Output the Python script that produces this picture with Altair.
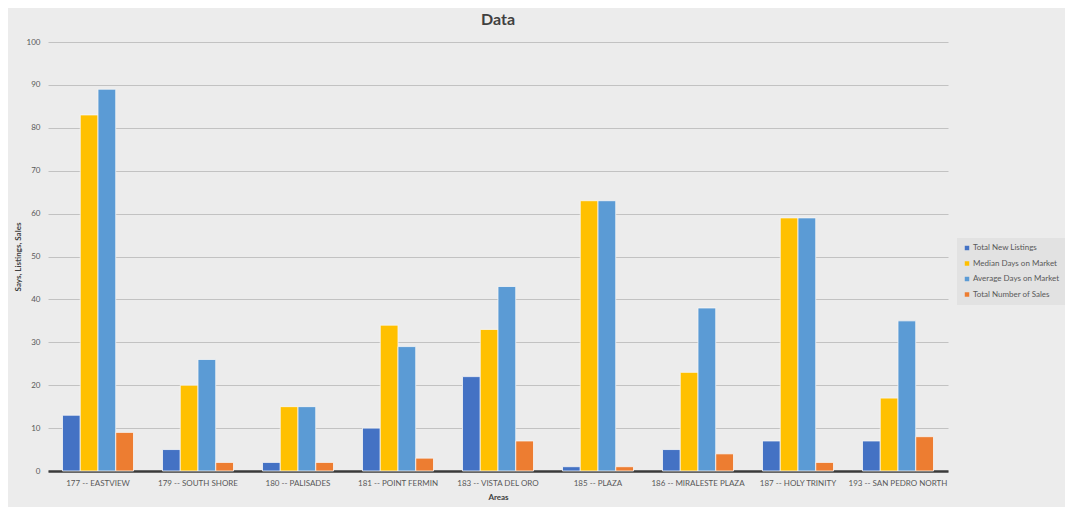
import altair as alt
import pandas as pd

areas = ["177 -- EASTVIEW", "179 -- SOUTH SHORE", "180 -- PALISADES", "181 -- POINT FERMIN",
         "183 -- VISTA DEL ORO", "185 -- PLAZA", "186 -- MIRALESTE PLAZA", "187 -- HOLY TRINITY",
         "193 -- SAN PEDRO NORTH"]
series = ["Total New Listings", "Median Days on Market", "Average Days on Market", "Total Number of Sales"]
new_listings = [13, 5, 2, 10, 22, 1, 5, 7, 7]
median_days = [83, 20, 15, 34, 33, 63, 23, 59, 17]
average_days = [89, 26, 15, 29, 43, 63, 38, 59, 35]
num_sales = [9, 2, 2, 3, 7, 1, 4, 2, 8]
colors = ["#4472C4", "#FFC000", "#5B9BD5", "#ED7D31"]

rows = []
for s, vals in zip(series, [new_listings, median_days, average_days, num_sales]):
    for a, v in zip(areas, vals):
        rows.append({"Area": a, "Series": s, "Value": v})
df = pd.DataFrame(rows)

font = "Lato"
chart = alt.Chart(df).mark_bar(stroke="#f6f6f6", strokeWidth=0.8).encode(
    x=alt.X("Area:N", sort=areas, title="Areas",
            scale=alt.Scale(paddingInner=0.29, paddingOuter=0.145),
            axis=alt.Axis(labelAngle=0, ticks=False, labelPadding=8, labelFontSize=8,
                          labelColor="#595959", labelFont=font, titleFont=font,
                          titleFontSize=8, titleColor="#404040", titleFontWeight="bold",
                          titlePadding=6, domainColor="#3a3a3a", domainWidth=2.5, grid=False)),
    xOffset=alt.XOffset("Series:N", sort=series, scale=alt.Scale(paddingInner=0.0)),
    y=alt.Y("Value:Q", title="Says, Listings, Sales",
            scale=alt.Scale(domain=[0, 100]),
            axis=alt.Axis(values=list(range(0, 101, 10)), ticks=False, domain=False,
                          labelPadding=8, labelFontSize=8, labelColor="#595959", labelFont=font,
                          titleFont=font, titleFontSize=8, titleColor="#404040",
                          titleFontWeight="bold", titlePadding=4,
                          gridColor="#c2c2c2", gridWidth=1)),
    color=alt.Color("Series:N", sort=series,
                    scale=alt.Scale(domain=series, range=colors),
                    legend=alt.Legend(title=None, orient="none", legendX=909, legendY=196,
                                      symbolType="square", symbolSize=20, symbolStrokeWidth=0,
                                      labelFontSize=8, labelFont=font, labelColor="#595959",
                                      rowPadding=7.5, padding=6, fillColor="#e2e2e2",
                                      labelOffset=2)),
).properties(
    width=900, height=429,
    title=alt.TitleParams("Data", fontSize=16, font=font, fontWeight="bold", color="#404040",
                          anchor="middle", offset=10),
    background="#ececec",
    autosize=alt.AutoSizeParams(type="none"),
    padding={"left": 40, "top": 34, "right": 117, "bottom": 36},
).configure_view(stroke=None)

chart.save("out.html", embed_options={"renderer": "svg", "actions": False})
